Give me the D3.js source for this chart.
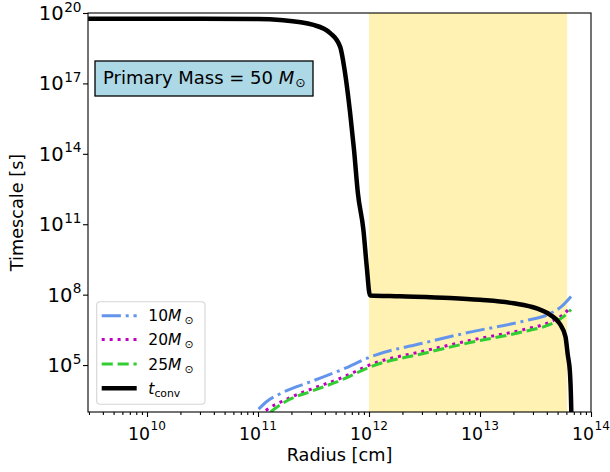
<!DOCTYPE html>
<html lang="en">
<head>
<meta charset="utf-8">
<title>Timescale vs Radius</title>
<style>
    body {
        margin: 0;
        background: #fff;
    }
    svg text {
        font-family: 'DejaVu Sans', sans-serif;
        fill: #000;
    }
</style>
<script src="https://cdn.jsdelivr.net/npm/d3@7/dist/d3.min.js"></script>
</head>
<body>
<script>
    /* DATA */

    var convRadius = [2.95e9, 1e10, 3.16e10, 1e11, 1.58e11, 3.16e11, 4.47e11, 5.5e11, 6.03e11, 6.76e11,
        7.33e11, 7.94e11, 8.91e11, 9.55e11, 1.02e12, 1.9e12, 5.37e12, 1e13, 2.0e13, 3.24e13,
        4.27e13, 5.25e13, 5.89e13, 6.17e13, 6.46e13, 6.61e13, 6.68e13];
    var convTime = [5.75e19, 5.75e19, 5.7e19, 5.5e19, 5.0e19, 3.1e19, 1.4e19, 3.6e18, 3.7e17, 5.5e15,
        1.45e14, 2.1e12, 5.6e10, 1.5e9, 9.3e7, 8.5e7, 7.2e7, 6.0e7, 4.3e7, 2.6e7,
        1.4e7, 5.6e6, 1.6e6, 2.8e5, 5.0e4, 3.2e3, 3.2e2];

    var radius10 = [1.012e11, 1.2e11, 1.585e11, 3.02e11, 5.75e11, 1.047e12, 3.16e12, 8.32e12, 2.51e13, 4.27e13, 5.5e13, 6.61e13];
    var time10 = [1.32e3, 2.8e3, 6.0e3, 2.0e4, 6.5e4, 2.3e5, 8.9e5, 2.6e6, 7.6e6, 1.55e7, 3.3e7, 8.3e7];

    var radius20 = [1.175e11, 1.38e11, 1.585e11, 2.14e11, 3.02e11, 5.75e11, 1.047e12, 3.16e12, 8.32e12, 2.51e13, 4.27e13, 5.5e13, 6.61e13];
    var time20 = [1.17e3, 1.9e3, 2.6e3, 5.0e3, 9.5e3, 2.95e4, 1.07e5, 4.0e5, 1.15e6, 3.3e6, 6.8e6, 1.32e7, 3.0e7];

    var radius25 = [1.3e11, 1.585e11, 1.86e11, 3.02e11, 5.75e11, 1.047e12, 3.16e12, 8.32e12, 2.51e13, 4.27e13, 5.5e13, 6.61e13];
    var time25 = [1.0e3, 2.0e3, 3.16e3, 7.6e3, 2.4e4, 8.7e4, 3.2e5, 9.3e5, 2.7e6, 5.4e6, 1.05e7, 2.3e7];

    var spanRadius = [1e12, 6.1e13];

    var xTickExp = [10, 11, 12, 13, 14];
    var yTickExp = [5, 8, 11, 14, 17, 20];
    var legendMasses = ["10", "20", "25"];
    var primaryMass = "50";

    /* LAYOUT */

    var svgW = 610;
    var svgH = 472;
    var padL = 88, padR = 591, padT = 13, padB = 412;

    var svg = d3.select("body").append("svg")
        .attr("width", svgW)
        .attr("height", svgH);

    var x = d3.scaleLog().domain([2.94e9, 1e14]).range([padL, padR]);
    var y = d3.scaleLog().domain([1e3, 1e20]).range([padB, padT]);

    svg.append("clipPath").attr("id", "plotclip")
        .append("rect")
        .attr("x", padL).attr("y", padT)
        .attr("width", padR - padL).attr("height", padB - padT);

    var plot = svg.append("g").attr("clip-path", "url(#plotclip)");

    /* SHADED SPAN */

    plot.append("rect")
        .attr("x", x(spanRadius[0]))
        .attr("y", padT)
        .attr("width", x(spanRadius[1]) - x(spanRadius[0]))
        .attr("height", padB - padT)
        .attr("fill", "#fff2b2");

    /* LINES */

    var line = d3.line()
        .x(function(d) { return x(d[0]); })
        .y(function(d) { return y(d[1]); })
        .curve(d3.curveMonotoneX);

    var series = [
        { r: radius10, t: time10, color: "#6495ed", width: 3, dash: "19.2,4.8,3,4.8" },
        { r: radius20, t: time20, color: "#bf00bf", width: 3, dash: "3,4.95" },
        { r: radius25, t: time25, color: "#32cd32", width: 3, dash: "11.1,4.8" },
        { r: convRadius, t: convTime, color: "#000", width: 4.5, dash: null }
    ];

    series.forEach(function(s) {
        plot.append("path")
            .attr("d", line(d3.zip(s.r, s.t)))
            .attr("fill", "none")
            .attr("stroke", s.color)
            .attr("stroke-width", s.width)
            .attr("stroke-dasharray", s.dash);
    });

    /* AXES */

    var xMajor = xTickExp.map(function(e) { return Math.pow(10, e); });
    var xMinor = [];
    for (var e = 9; e < 14; e++) {
        for (var m = 2; m < 10; m++) {
            var v = m * Math.pow(10, e);
            if (v >= x.domain()[0] && v <= x.domain()[1]) xMinor.push(v);
        }
    }
    var yMajor = yTickExp.map(function(e) { return Math.pow(10, e); });

    svg.append("g")
        .attr("transform", "translate(0," + padB + ")")
        .call(d3.axisBottom(x).tickValues(xMajor).tickSize(5).tickFormat(""))
        .call(function(g) { g.select(".domain").remove(); });

    svg.append("g")
        .attr("transform", "translate(0," + padB + ")")
        .call(d3.axisBottom(x).tickValues(xMinor).tickSize(3).tickFormat(""))
        .call(function(g) { g.select(".domain").remove(); });

    svg.append("g")
        .attr("transform", "translate(" + padL + ",0)")
        .call(d3.axisLeft(y).tickValues(yMajor).tickSize(5).tickFormat(""))
        .call(function(g) { g.select(".domain").remove(); });

    svg.selectAll(".tick line").attr("stroke", "#000").attr("stroke-width", 1.1);

    // 10^n written as base + raised exponent
    function powerLabel(t, exp, size, shift) {
        t.append("tspan").text("10");
        t.append("tspan")
            .attr("dx", 0.5)
            .attr("dy", -shift)
            .attr("font-size", 0.7 * size)
            .text(exp);
    }

    var xTickFont = 17.3;
    var yTickFont = 19.5;

    xTickExp.forEach(function(e) {
        var t = svg.append("text")
            .attr("x", x(Math.pow(10, e)))
            .attr("y", 439.5)
            .attr("text-anchor", "middle")
            .attr("font-size", xTickFont);
        powerLabel(t, e, xTickFont, 10);
    });

    yTickExp.forEach(function(e) {
        var t = svg.append("text")
            .attr("x", 81.5)
            .attr("y", y(Math.pow(10, e)) + 7)
            .attr("text-anchor", "end")
            .attr("font-size", yTickFont);
        powerLabel(t, e, yTickFont, 8.5);
    });

    svg.append("text")
        .attr("x", (padL + padR) / 2)
        .attr("y", 461)
        .attr("text-anchor", "middle")
        .attr("font-size", 17.7)
        .text("Radius [cm]");

    svg.append("text")
        .attr("transform", "translate(23," + (padT + padB) / 2 + ") rotate(-90)")
        .attr("text-anchor", "middle")
        .attr("font-size", 17.7)
        .text("Timescale [s]");

    /* FRAME */

    svg.append("rect")
        .attr("x", padL).attr("y", padT)
        .attr("width", padR - padL).attr("height", padB - padT)
        .attr("fill", "none")
        .attr("stroke", "#000")
        .attr("stroke-width", 1.1);

    /* TEXT BOX */

    svg.append("rect")
        .attr("x", 95).attr("y", 61)
        .attr("width", 218).attr("height", 35)
        .attr("fill", "#add8e6")
        .attr("stroke", "#000")
        .attr("stroke-width", 1.3);

    var boxText = svg.append("text")
        .attr("x", 103)
        .attr("y", 84)
        .attr("font-size", 18);
    boxText.append("tspan").text("Primary Mass = " + primaryMass + " ");
    boxText.append("tspan").attr("font-style", "italic").text("M");
    boxText.append("tspan").attr("dx", 1).attr("dy", 3).attr("font-size", 12.6).text("\u2299");

    /* LEGEND */

    var lg = svg.append("g");
    lg.append("rect")
        .attr("x", 96.7).attr("y", 301.7)
        .attr("width", 108.3).attr("height", 102.6)
        .attr("rx", 3.5)
        .attr("fill", "#fff").attr("fill-opacity", 0.8)
        .attr("stroke", "#d5d5d5")
        .attr("stroke-width", 1.1);

    var rowY = [315.7, 339.5, 364, 388.3];
    var legSize = 15.5;

    series.forEach(function(s, i) {
        lg.append("line")
            .attr("x1", 101.7).attr("x2", 136.7)
            .attr("y1", rowY[i]).attr("y2", rowY[i])
            .attr("stroke", s.color)
            .attr("stroke-width", s.width)
            .attr("stroke-dasharray", s.dash);

        var t = lg.append("text")
            .attr("x", 148.3)
            .attr("y", rowY[i] + 5.6)
            .attr("font-size", legSize);
        if (i < 3) {
            t.append("tspan").text(legendMasses[i]);
            t.append("tspan").attr("font-style", "italic").text("M");
            t.append("tspan").attr("dx", 3).attr("dy", 3).attr("font-size", 0.7 * legSize).text("\u2299");
        } else {
            t.append("tspan").attr("font-style", "italic").text("t");
            t.append("tspan").attr("dy", 3).attr("font-size", 0.7 * legSize).text("conv");
        }
    });
</script>
</body>
</html>
